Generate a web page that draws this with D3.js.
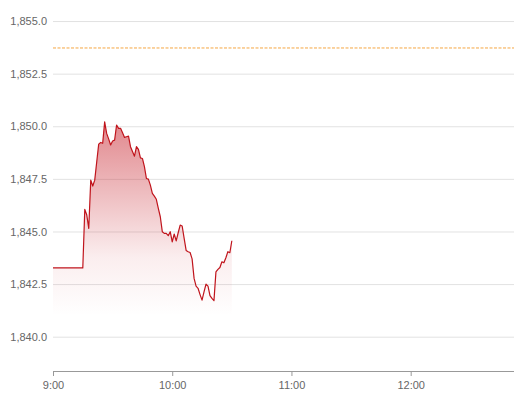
<!DOCTYPE html>
<html>
<head>
<meta charset="utf-8">
<script src="https://cdn.jsdelivr.net/npm/d3@7"></script>
<style>
  body { margin: 0; background: #fff; }
  svg { display: block; font-family: "Liberation Sans", Arial, sans-serif; }
</style>
</head>
<body>
<div id="chart"></div>
<script>

// Data (minute of session, price)
const times = ["9:00","9:15","9:16","9:17","9:18","9:19","9:20","9:21","9:22","9:23",
  "9:24","9:25","9:26","9:27","9:28","9:29","9:30","9:31","9:32","9:33",
  "9:34","9:35","9:36","9:37","9:38","9:39","9:40","9:41","9:42","9:43",
  "9:44","9:45","9:46","9:47","9:48","9:49","9:50","9:51","9:52","9:53",
  "9:54","9:55","9:56","9:57","9:58","9:59","10:00","10:01","10:02","10:03",
  "10:04","10:05","10:06","10:07","10:08","10:09","10:10","10:11","10:12","10:13",
  "10:14","10:15","10:16","10:17","10:18","10:19","10:20","10:21","10:22","10:23",
  "10:24","10:25","10:26","10:27","10:28","10:29","10:30"];
const prices = [1843.27,1843.27,1846.05,1845.78,1845.15,1847.44,1847.16,1847.44,1848.3,1849.15,
  1849.23,1849.19,1850.21,1849.66,1849.4,1849.11,1849.30,1849.34,1850.06,1849.90,
  1849.90,1849.69,1849.47,1849.50,1849.53,1849.03,1848.8,1848.58,1849.03,1848.90,
  1848.50,1848.47,1848.08,1847.52,1847.49,1847.2,1846.81,1846.68,1846.53,1846.1,
  1845.70,1844.99,1844.91,1844.91,1844.80,1844.99,1844.51,1844.88,1844.55,1844.94,
  1845.30,1845.26,1844.67,1844.1,1844.04,1844.0,1843.7,1842.77,1842.40,1842.30,
  1842.0,1841.74,1842.13,1842.50,1842.40,1841.95,1841.82,1841.71,1843.08,1843.20,
  1843.29,1843.56,1843.51,1843.75,1844.04,1843.99,1844.56];
const prevClose = 1853.72;
const fillBase = 1841.0;
const yTicks = [1840, 1842.5, 1845, 1847.5, 1850, 1852.5, 1855];
const xTicks = ["9:00","10:00","11:00","12:00"];
const xStart = "9:00", xEnd = "12:52";

const width = 514, height = 397;
const margin = {top: 0, right: 0, bottom: 26, left: 53};

const parseTime = d3.timeParse("%H:%M");
const data = times.map((t, i) => ({t: parseTime(t), v: prices[i]}));

const svg = d3.select("#chart")
  .append("svg")
  .attr("width", width)
  .attr("height", height);

// Scales
const xScale = d3.scaleTime()
  .domain([parseTime(xStart), parseTime(xEnd)])
  .range([margin.left, width - margin.right]);

const yScale = d3.scaleLinear()
  .domain([1838.37, 1856.0])
  .range([height - margin.bottom, margin.top]);

// Gradient for the area under the line
const grad = svg.append("defs").append("linearGradient")
  .attr("id", "fillGrad")
  .attr("gradientUnits", "userSpaceOnUse")
  .attr("x1", 0).attr("x2", 0)
  .attr("y1", yScale(d3.max(prices)))
  .attr("y2", yScale(fillBase));
grad.append("stop").attr("offset", "0%").attr("stop-color", "#c8252f").attr("stop-opacity", 0.55);
grad.append("stop").attr("offset", "70%").attr("stop-color", "#c8252f").attr("stop-opacity", 0.08);
grad.append("stop").attr("offset", "100%").attr("stop-color", "#c8252f").attr("stop-opacity", 0.0);

// Grid lines + y labels
const yAxis = svg.append("g")
  .attr("transform", `translate(${margin.left},0)`)
  .call(d3.axisLeft(yScale)
    .tickValues(yTicks)
    .tickSize(-(width - margin.left - margin.right))
    .tickPadding(6)
    .tickFormat(d3.format(",.1f")));
yAxis.select(".domain").remove();
yAxis.selectAll("line").attr("stroke", "#e2e2e2");
yAxis.selectAll("text")
  .attr("fill", "#666")
  .attr("font-size", "11px")
  .attr("font-family", "Liberation Sans, Arial, sans-serif");

// Area + line
const area = d3.area()
  .x(d => xScale(d.t))
  .y0(yScale(fillBase))
  .y1(d => yScale(d.v));

const line = d3.line()
  .x(d => xScale(d.t))
  .y(d => yScale(d.v));

svg.append("path")
  .datum(data)
  .attr("d", area)
  .attr("fill", "url(#fillGrad)");

svg.append("path")
  .datum(data)
  .attr("d", line)
  .attr("fill", "none")
  .attr("stroke", "#c0141c")
  .attr("stroke-width", 1.2)
  .attr("stroke-linejoin", "round");

// Previous close dashed line
svg.append("line")
  .attr("x1", margin.left)
  .attr("x2", width - margin.right)
  .attr("y1", yScale(prevClose))
  .attr("y2", yScale(prevClose))
  .attr("stroke", "#f5a742")
  .attr("stroke-width", 1)
  .attr("stroke-dasharray", "3,1.5");

// X axis
const xAxis = svg.append("g")
  .attr("transform", `translate(0,${height - margin.bottom})`)
  .call(d3.axisBottom(xScale)
    .tickValues(xTicks.map(parseTime))
    .tickSize(5)
    .tickPadding(5)
    .tickSizeOuter(0)
    .tickFormat(d3.timeFormat("%-H:%M")));
xAxis.select(".domain").attr("stroke", "#999");
xAxis.selectAll("line").attr("stroke", "#999");
xAxis.selectAll("text")
  .attr("fill", "#666")
  .attr("font-size", "11px")
  .attr("font-family", "Liberation Sans, Arial, sans-serif");

</script>
</body>
</html>
